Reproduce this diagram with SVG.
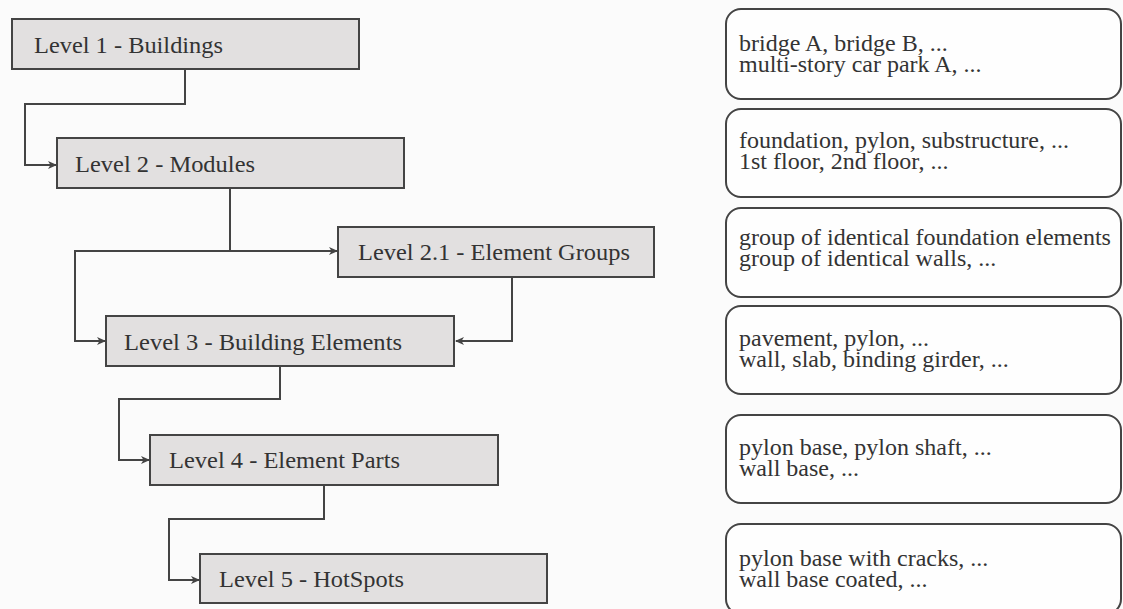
<svg xmlns="http://www.w3.org/2000/svg" width="1123" height="609" viewBox="0 0 1123 609">
<defs>
<style>
.lvl rect{fill:#e2e0e0;stroke:#444;stroke-width:2}
.lvl text{font-family:"Liberation Serif","Times New Roman",serif;font-size:23px;fill:#333}
.ex rect{fill:#fefefe;stroke:#444;stroke-width:2}
.ex text{font-family:"Liberation Serif","Times New Roman",serif;font-size:24px;fill:#333}
.conn path{fill:none;stroke:#444;stroke-width:2}
</style>
<marker id="arr" markerWidth="10" markerHeight="10" refX="8" refY="4" orient="auto" markerUnits="userSpaceOnUse">
<path d="M0,0 L9,4 L0,8 L2.5,4 Z" fill="#444"/>
</marker>
</defs>
<rect width="1123" height="609" fill="#fbfbfb"/>
<g class="conn" id="connectors">
<path d="M185,69 V104 H25 V165 H56" marker-end="url(#arr)"/>
<path d="M230,188 V251 H75 V341 H105" marker-end="url(#arr)"/>
<path d="M230,251 H337" marker-end="url(#arr)"/>
<path d="M512,277 V341 H456" marker-end="url(#arr)"/>
<path d="M280,366 V399 H119 V460 H149" marker-end="url(#arr)"/>
<path d="M324,485 V519 H169 V580 H199" marker-end="url(#arr)"/>
</g>
<g class="lvl" id="level1"><rect x="12" y="19" width="347" height="50"/><text x="34" y="53" textLength="189" lengthAdjust="spacingAndGlyphs">Level 1 - Buildings</text></g>
<g class="lvl" id="level2"><rect x="57" y="138" width="347" height="50"/><text x="75" y="172" textLength="180" lengthAdjust="spacingAndGlyphs">Level 2 - Modules</text></g>
<g class="lvl" id="level2_1"><rect x="338" y="227" width="316" height="50"/><text x="358" y="260" textLength="272" lengthAdjust="spacingAndGlyphs">Level 2.1 - Element Groups</text></g>
<g class="lvl" id="level3"><rect x="106" y="316" width="348" height="50"/><text x="124" y="350" textLength="278" lengthAdjust="spacingAndGlyphs">Level 3 - Building Elements</text></g>
<g class="lvl" id="level4"><rect x="150" y="435" width="348" height="50"/><text x="169" y="468" textLength="231" lengthAdjust="spacingAndGlyphs">Level 4 - Element Parts</text></g>
<g class="lvl" id="level5"><rect x="200" y="554" width="347" height="49"/><text x="219" y="587" textLength="185" lengthAdjust="spacingAndGlyphs">Level 5 - HotSpots</text></g>
<g class="ex" id="ex1"><rect x="726" y="9" width="395" height="90" rx="15"/><text x="739" y="51" fill="#1e1e1e">bridge A, bridge B, ...</text><text x="739" y="72" fill="#1e1e1e">multi-story car park A, ...</text></g>
<g class="ex" id="ex2"><rect x="726" y="109" width="395" height="88" rx="15"/><text x="739" y="148">foundation, pylon, substructure, ...</text><text x="739" y="169">1st floor, 2nd floor, ...</text></g>
<g class="ex" id="ex2_1"><rect x="726" y="208" width="395" height="89" rx="15"/><text x="739" y="245">group of identical foundation elements</text><text x="739" y="266">group of identical walls, ...</text></g>
<g class="ex" id="ex3"><rect x="726" y="306" width="395" height="88" rx="15"/><text x="739" y="346">pavement, pylon, ...</text><text x="739" y="367">wall, slab, binding girder, ...</text></g>
<g class="ex" id="ex4"><rect x="726" y="415" width="395" height="88" rx="15"/><text x="739" y="455">pylon base, pylon shaft, ...</text><text x="739" y="476">wall base, ...</text></g>
<g class="ex" id="ex5"><rect x="726" y="524" width="395" height="90" rx="15"/><text x="739" y="566">pylon base with cracks, ...</text><text x="739" y="587">wall base coated, ...</text></g>
</svg>
